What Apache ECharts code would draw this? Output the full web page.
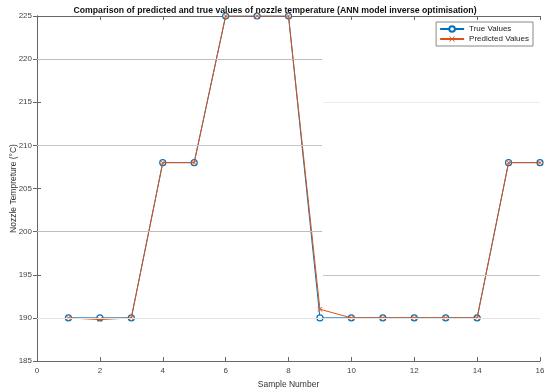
<!DOCTYPE html>
<html><head><meta charset="utf-8">
<script src="https://cdn.jsdelivr.net/npm/echarts@6/dist/echarts.min.js"></script>
<style>html,body{margin:0;padding:0;background:#fff}#c{width:550px;height:392px}</style>
</head><body><div id="c"></div>
<script>
const samples = [1,2,3,4,5,6,7,8,9,10,11,12,13,14,15,16];
const trueValues = [190,190,190,208,208,225,225,225,190,190,190,190,190,190,208,208];
const predictedValues = [190,189.8,190,208,208,225,225,225,191,190,190,190,190,190,208,208];
const xTicks = [0,2,4,6,8,10,12,14,16];
const yTicks = [185,190,195,200,205,210,215,220,225];

const chart = echarts.init(document.getElementById('c'), null, {renderer:'canvas'});
const font = 'Liberation Sans, Arial, sans-serif';
const axisCol = '#666';
const xSym = 'path://M0,1L1,0L5,4L9,0L10,1L6,5L10,9L9,10L5,6L1,10L0,9L4,5Z';
function gl(y, x0, x1, c){ return [{coord:[x0,y], lineStyle:{color:c}},{coord:[x1,y]}]; }
chart.setOption({
  animation:false,
  title:{text:'Comparison of predicted and true values of nozzle temperature (ANN model inverse optimisation)',
    left:'center', top:1, textStyle:{fontFamily:font, fontSize:8.7, fontWeight:'bold', color:'#111'}},
  grid:{left:37, right:10, top:16, bottom:31, containLabel:false, outerBoundsMode:'none'},
  legend:{right:17, top:22, orient:'vertical', itemGap:2, itemWidth:24, itemHeight:7,
    padding:[3,4,3,3], borderColor:'#888', borderWidth:1, backgroundColor:'#fff',
    textStyle:{fontFamily:font, fontSize:8, color:'#222'}, data:['True Values','Predicted Values']},
  xAxis:[{type:'value', min:0, max:16, interval:2, name:'Sample Number', nameLocation:'middle', nameGap:19, nameMoveOverlap:false,
    nameTextStyle:{fontFamily:font, fontSize:8.5, color:'#333'},
    axisLine:{show:true, lineStyle:{color:axisCol}}, axisTick:{inside:true, length:4, lineStyle:{color:axisCol}},
    axisLabel:{fontFamily:font, fontSize:8, color:'#444', margin:6}, splitLine:{show:false}},
    {type:'value', min:0, max:16, interval:2, position:'top', axisLine:{show:true, lineStyle:{color:axisCol}},
    axisTick:{inside:true, length:4, lineStyle:{color:axisCol}}, axisLabel:{show:false}, splitLine:{show:false}}],
  yAxis:[{type:'value', min:185, max:225, interval:5, name:'Nozzle Tempreture (°C)', nameLocation:'middle', nameGap:19, nameMoveOverlap:false,
    nameTextStyle:{fontFamily:font, fontSize:8.5, color:'#333'},
    axisLine:{show:true, lineStyle:{color:axisCol}}, axisTick:{inside:true, length:4, lineStyle:{color:axisCol}},
    axisLabel:{fontFamily:font, fontSize:8, color:'#444', margin:5}, splitLine:{show:false}},
    {type:'value', min:185, max:225, interval:5, position:'right', axisLine:{show:true, lineStyle:{color:axisCol}},
    axisTick:{inside:true, length:4, lineStyle:{color:axisCol}}, axisLabel:{show:false}, splitLine:{show:false}}],
  series:[
    {type:'line', name:'grid', silent:true, data:[], markLine:{silent:true, symbol:'none', label:{show:false},
      lineStyle:{type:'solid', width:1},
      data:[gl(220,0,9.07,'#bdbdbd'), gl(210,0,9.07,'#c8c8c8'), gl(200,0,9.07,'#bdbdbd'),
            gl(215,9.1,16,'#ececec'), gl(195,9.1,16,'#c4c4c4'), gl(190,0,16,'#e4e4e4')]}},
    {type:'line', name:'True Values', data:samples.map((s,i)=>[s,trueValues[i]]),
      symbol:'circle', symbolSize:6, showAllSymbol:true,
      lineStyle:{color:'#0072BD', width:1}, itemStyle:{color:'#fff', borderColor:'#0072BD', borderWidth:1.2}, z:3},
    {type:'line', name:'Predicted Values', data:samples.map((s,i)=>[s,predictedValues[i]]),
      symbol:xSym, symbolSize:5, showAllSymbol:true,
      lineStyle:{color:'#D95319', width:1}, itemStyle:{color:'#D95319'}, z:4}
  ]
});
</script></body></html>
